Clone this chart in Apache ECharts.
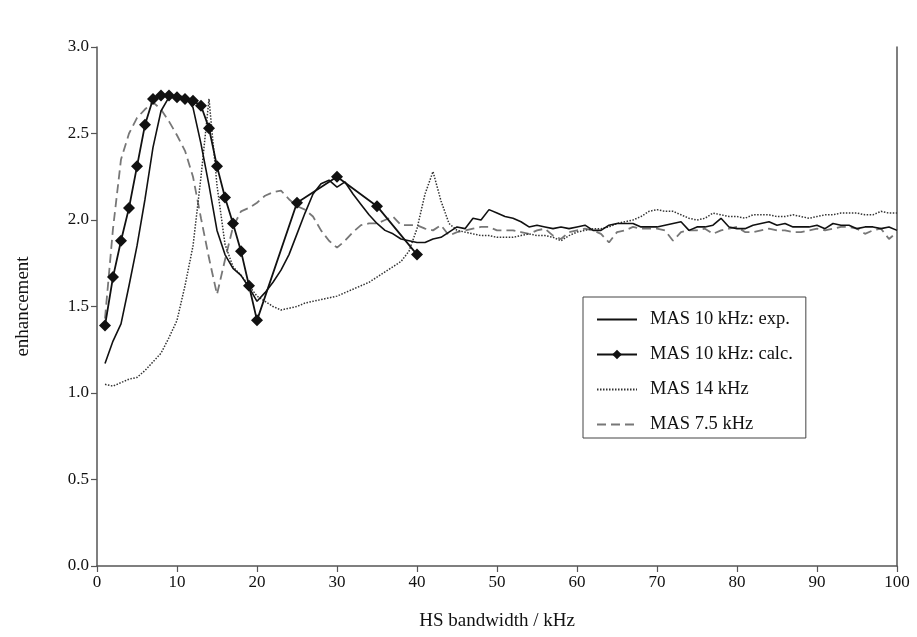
<!DOCTYPE html>
<html>
<head>
<meta charset="utf-8">
<script src="https://cdn.jsdelivr.net/npm/echarts@6/dist/echarts.min.js"></script>
<style>html,body{margin:0;padding:0;background:#fff}#c{width:917px;height:637px}</style>
</head>
<body>
<div id="c"></div>
<script>
const expX = [1,2,3,4,5,6,7,8,9,10,11,12,13,14,15,16,17,18,19,20,21,22,23,24,25,26,27,28,29,30,31,32,33,34,35,36,37,38,39,40,41,42,43,44,45,46,47,48,49,50,51,52,53,54,55,56,57,58,59,60,61,62,63,64,65,66,67,68,69,70,71,72,73,74,75,76,77,78,79,80,81,82,83,84,85,86,87,88,89,90,91,92,93,94,95,96,97,98,99,100];
const expY = [1.17,1.30,1.40,1.62,1.85,2.12,2.42,2.63,2.71,2.72,2.71,2.65,2.44,2.20,1.94,1.80,1.72,1.68,1.61,1.53,1.58,1.64,1.71,1.80,1.92,2.04,2.15,2.21,2.23,2.19,2.22,2.15,2.09,2.03,1.98,1.94,1.92,1.89,1.88,1.87,1.87,1.89,1.90,1.93,1.96,1.95,2.01,2.00,2.06,2.04,2.02,2.01,1.99,1.96,1.97,1.96,1.95,1.96,1.95,1.96,1.97,1.94,1.94,1.97,1.98,1.98,1.98,1.96,1.96,1.96,1.97,1.98,1.99,1.94,1.96,1.96,1.97,2.01,1.96,1.95,1.95,1.97,1.98,1.99,1.97,1.98,1.96,1.96,1.96,1.97,1.95,1.98,1.97,1.97,1.95,1.96,1.96,1.95,1.96,1.94];

const calcX = [1,2,3,4,5,6,7,8,9,10,11,12,13,14,15,16,17,18,19,20,25,30,35,40];
const calcY = [1.39,1.67,1.88,2.07,2.31,2.55,2.70,2.72,2.72,2.71,2.70,2.69,2.66,2.53,2.31,2.13,1.98,1.82,1.62,1.42,2.10,2.25,2.08,1.80];

const mas14X = expX;
const mas14Y = [1.05,1.04,1.06,1.08,1.09,1.13,1.18,1.23,1.32,1.42,1.62,1.85,2.25,2.70,2.20,1.86,1.73,1.68,1.62,1.56,1.53,1.50,1.48,1.49,1.50,1.52,1.53,1.54,1.55,1.56,1.58,1.60,1.62,1.64,1.67,1.70,1.73,1.76,1.82,1.95,2.15,2.28,2.11,1.98,1.94,1.93,1.92,1.91,1.91,1.90,1.90,1.90,1.91,1.92,1.91,1.91,1.90,1.88,1.91,1.93,1.94,1.95,1.95,1.96,1.98,1.99,2.00,2.02,2.05,2.06,2.05,2.05,2.03,2.01,2.00,2.01,2.04,2.03,2.02,2.02,2.01,2.03,2.03,2.03,2.02,2.02,2.03,2.02,2.01,2.02,2.03,2.03,2.04,2.04,2.04,2.03,2.03,2.05,2.04,2.04];

const mas75X = expX;
const mas75Y = [1.43,1.95,2.35,2.50,2.59,2.64,2.68,2.64,2.57,2.49,2.40,2.25,2.01,1.78,1.57,1.77,1.96,2.05,2.07,2.10,2.14,2.16,2.17,2.12,2.08,2.06,2.02,1.94,1.88,1.84,1.88,1.93,1.97,1.98,1.98,2.00,2.02,1.97,1.97,1.97,1.95,1.94,1.97,1.91,1.93,1.94,1.95,1.96,1.96,1.94,1.94,1.94,1.93,1.92,1.94,1.95,1.91,1.89,1.93,1.94,1.95,1.94,1.92,1.87,1.93,1.94,1.96,1.95,1.95,1.95,1.94,1.88,1.93,1.94,1.94,1.95,1.92,1.94,1.95,1.96,1.93,1.93,1.94,1.95,1.94,1.94,1.93,1.93,1.94,1.95,1.94,1.95,1.96,1.96,1.95,1.92,1.94,1.95,1.89,1.93];

const xTicks = [0,10,20,30,40,50,60,70,80,90,100];
const yTicks = [0.0,0.5,1.0,1.5,2.0,2.5,3.0];

const names = ['MAS 10 kHz: exp.','MAS 10 kHz: calc.','MAS 14 kHz','MAS 7.5 kHz'];
const pair = (xs, ys) => xs.map((x, i) => [x, ys[i]]);

const FONT = 'Liberation Serif';
const hidden = {opacity: 0};
const chart = echarts.init(document.getElementById('c'), null, {renderer: 'canvas'});
chart.setOption({
  animation: false,
  backgroundColor: '#fff',
  textStyle: {fontFamily: FONT, color: '#111'},
  grid: {left: 97, right: 20, top: 47, bottom: 71, containLabel: false},
  legend: {
    orient: 'vertical', left: 583, top: 297,
    itemWidth: 40, itemHeight: 12, itemGap: 16,
    padding: [13, 13, 4, 13],
    borderColor: '#444', borderWidth: 1,
    backgroundColor: '#fff',
    textStyle: {fontFamily: FONT, fontSize: 18.5, color: '#111', padding: [0, 0, 0, 8]},
    data: [
      {name: names[0], itemStyle: hidden},
      {name: names[1]},
      {name: names[2], itemStyle: hidden},
      {name: names[3], itemStyle: hidden}
    ]
  },
  xAxis: {
    type: 'value', min: 0, max: 100, interval: 10,
    name: 'HS bandwidth / kHz', nameLocation: 'middle', nameGap: 46,
    nameTextStyle: {fontFamily: FONT, fontSize: 19, color: '#111'},
    axisLine: {show: true, lineStyle: {color: '#555', width: 1.5}},
    axisTick: {show: true, inside: false, length: 6, lineStyle: {color: '#555', width: 1.2}},
    axisLabel: {fontFamily: FONT, fontSize: 17, color: '#111', margin: 8,
      formatter: v => xTicks.includes(v) ? String(v) : ''},
    splitLine: {show: false}
  },
  yAxis: [{
    type: 'value', min: 0, max: 3, interval: 0.5,
    name: 'enhancement', nameLocation: 'middle', nameGap: 64,
    nameTextStyle: {fontFamily: FONT, fontSize: 19, color: '#111'},
    axisLine: {show: true, lineStyle: {color: '#555', width: 1.5}},
    axisTick: {show: true, inside: false, length: 6, lineStyle: {color: '#555', width: 1.2}},
    axisLabel: {fontFamily: FONT, fontSize: 17, color: '#111', margin: 8,
      formatter: v => yTicks.includes(v) ? v.toFixed(1) : ''},
    splitLine: {show: false}
  }, {
    type: 'value', min: 0, max: 3, interval: 0.5, position: 'right',
    axisLine: {show: true, lineStyle: {color: '#555', width: 1.5}},
    axisTick: {show: false}, axisLabel: {show: false}, splitLine: {show: false}
  }],
  series: [
    {name: names[0], type: 'line', data: pair(expX, expY), showSymbol: false, symbol: 'none',
     lineStyle: {color: '#111', width: 1.6}, itemStyle: {color: '#111'}, z: 3},
    {name: names[1], type: 'line', data: pair(calcX, calcY), symbol: 'diamond', symbolSize: 12,
     lineStyle: {color: '#111', width: 1.8}, itemStyle: {color: '#111'}, z: 4},
    {name: names[2], type: 'line', data: pair(mas14X, mas14Y), showSymbol: false, symbol: 'none',
     lineStyle: {color: '#333', width: 1.5, type: [1.5, 1.5]}, itemStyle: {color: '#333'}, z: 2},
    {name: names[3], type: 'line', data: pair(mas75X, mas75Y), showSymbol: false, symbol: 'none',
     lineStyle: {color: '#777', width: 1.8, type: [9, 5]}, itemStyle: {color: '#777'}, z: 1}
  ]
});
</script>
</body>
</html>
